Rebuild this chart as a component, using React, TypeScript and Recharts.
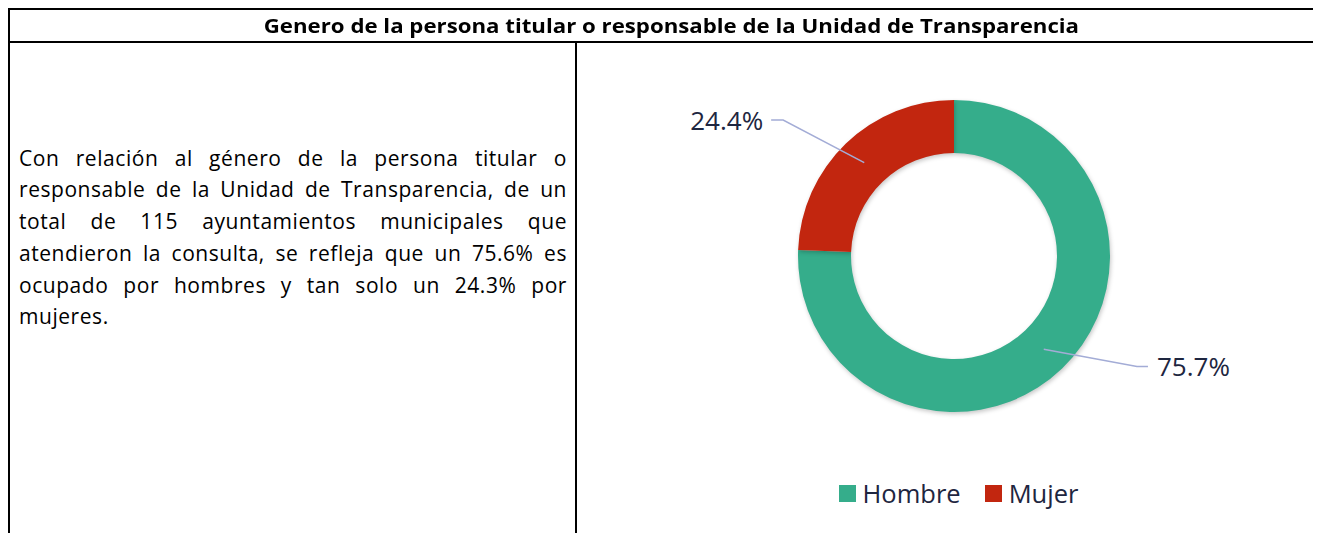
import React from 'react';
import { PieChart, Pie, Cell, Legend } from 'recharts';

const categories = ['Hombre', 'Mujer'];
const values = [75.7, 24.4];
const labels = ['75.7%', '24.4%'];
const colors = ['#35AD8B', '#C2260F'];

const data = categories.map((name, i) => ({ name, value: values[i], label: labels[i] }));

const FONT = "'Open Sans', 'Noto Sans', sans-serif";
const TEXT_COLOR = '#1E2640';
const LEADER_COLOR = '#A3ACD6';
const RADIAN = Math.PI / 180;

const renderLabel = (props: any) => {
  const { cx, cy, midAngle, innerRadius, outerRadius, index } = props;
  const midR = (innerRadius + outerRadius) / 2;
  const sx = cx + midR * Math.cos(-midAngle * RADIAN);
  const sy = cy + midR * Math.sin(-midAngle * RADIAN);
  const right = Math.cos(-midAngle * RADIAN) >= 0;
  // nudge the elbow toward the horizontal axis
  const nudge = right ? 15 : 7.6;
  const elbowAngle = midAngle + nudge;
  const er = outerRadius * (right ? 1.37 : 1.4);
  const ex = cx + er * Math.cos(-elbowAngle * RADIAN);
  const ey = cy + er * Math.sin(-elbowAngle * RADIAN);
  const hx = ex + (right ? 11 : -12);
  const tx = hx + (right ? 9 : -8);
  return (
    <g key={`lbl-${index}`}>
      <polyline
        points={`${sx},${sy} ${ex},${ey} ${hx},${ey}`}
        fill="none"
        stroke={LEADER_COLOR}
        strokeWidth={1.5}
      />
      <text
        x={tx}
        y={ey}
        textAnchor={right ? 'start' : 'end'}
        dominantBaseline="central"
        fill={TEXT_COLOR}
        fontSize={26}
        fontFamily={FONT}
      >
        {data[index].label}
      </text>
    </g>
  );
};

const LegendContent = () => (
  <div
    style={{
      display: 'flex',
      justifyContent: 'center',
      alignItems: 'center',
      paddingLeft: 19,
      fontFamily: FONT,
      fontSize: 25.5,
      color: TEXT_COLOR,
      lineHeight: '30px',
    }}
  >
    {data.map((d, i) => (
      <div key={d.name} style={{ display: 'flex', alignItems: 'center', marginRight: i === 0 ? 24 : 0 }}>
        <div style={{ width: 17, height: 17, background: colors[i], marginRight: 7 }} />
        <span>{d.name}</span>
      </div>
    ))}
  </div>
);

const paragraph =
  'Con relación al género de la persona titular o responsable de la Unidad de Transparencia, de un total de 115 ayuntamientos municipales que atendieron la consulta, se refleja que un 75.6% es ocupado por hombres y tan solo un 24.3% por mujeres.';

export default function App() {
  return (
    <div style={{ position: 'relative', width: 1313, height: 525, overflow: 'hidden', background: '#fff' }}>
      <style>{`html,body{overflow:hidden;}`}</style>
      {/* table frame */}
      <div style={{ position: 'absolute', left: 0, top: 0, width: 1340, height: 2, background: '#000' }} />
      <div style={{ position: 'absolute', left: 0, top: 33, width: 1340, height: 2, background: '#000' }} />
      <div style={{ position: 'absolute', left: 0, top: 0, width: 2, height: 540, background: '#000' }} />
      <div style={{ position: 'absolute', left: 567, top: 33, width: 2, height: 540, background: '#000' }} />
      {/* header */}
      <div
        style={{
          position: 'absolute',
          left: 0,
          top: 2,
          width: 1326,
          height: 31,
          display: 'flex',
          alignItems: 'center',
          justifyContent: 'center',
          fontFamily: FONT,
          fontWeight: 700,
          fontSize: 19,
          color: '#000',
          whiteSpace: 'nowrap',
        }}
      >
        <span style={{ display: 'inline-block', transform: 'scaleX(1.17)', transformOrigin: 'center' }}>
          Genero de la persona titular o responsable de la Unidad de Transparencia
        </span>
      </div>
      {/* paragraph */}
      <div
        style={{
          position: 'absolute',
          left: 11,
          top: 134.7,
          width: 548,
          textAlign: 'justify',
          fontFamily: FONT,
          fontSize: 21,
          letterSpacing: '0.55px',
          lineHeight: '31.7px',
          color: '#000',
        }}
      >
        {paragraph}
      </div>
      {/* chart */}
      <div style={{ position: 'absolute', left: 569, top: 35 }}>
        <PieChart width={744} height={490} margin={{ top: 0, right: 0, bottom: 0, left: 0 }}>
          <Pie
            data={data}
            dataKey="value"
            nameKey="name"
            cx={377}
            cy={213}
            innerRadius={103}
            outerRadius={156}
            startAngle={90}
            endAngle={-270}
            stroke="none"
            label={renderLabel}
            labelLine={false}
            isAnimationActive={false}
          >
            {data.map((d, i) => (
              <Cell
                key={d.name}
                fill={colors[i]}
                style={{ filter: 'drop-shadow(1px 2px 2px rgba(0,0,0,0.22))' }}
              />
            ))}
          </Pie>
          <Legend
            verticalAlign="bottom"
            content={<LegendContent />}
            wrapperStyle={{ top: 435, left: 0, width: 744, bottom: 'auto' }}
          />
        </PieChart>
      </div>
    </div>
  );
}
